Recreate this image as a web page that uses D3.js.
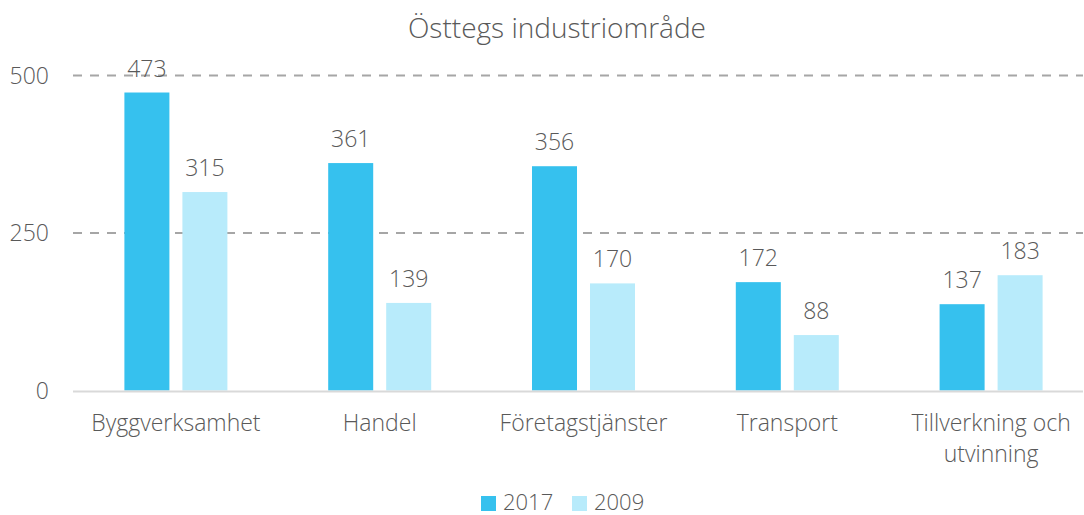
<!DOCTYPE html>
<html>
<head>
<meta charset="utf-8">
<script src="https://cdn.jsdelivr.net/npm/d3@7"></script>
<style>
  body { margin: 0; background: #fff; }
  text { font-family: "Open Sans", sans-serif; font-weight: 300; fill: #595959; }
</style>
</head>
<body>
<svg width="1084" height="515"></svg>
<script>
// chart data
var categories = ["Byggverksamhet", "Handel", "Företagstjänster", "Transport", "Tillverkning och utvinning"];
var series = ["2017", "2009"];
var values2017 = [473, 361, 356, 172, 137];
var values2009 = [315, 139, 170, 88, 183];
var yTicks = [0, 250, 500];

var colors = { "2017": "#36C1EE", "2009": "#B8EBFB" };

var svg = d3.select("svg");

var data = categories.map(function(c, i) {
  return { cat: c, vals: [{ s: "2017", v: values2017[i] }, { s: "2009", v: values2009[i] }] };
});

var x0 = d3.scaleBand().domain(categories).range([74, 1093]);
var x1 = d3.scaleBand().domain(series).range([-51.5, 51.5]).paddingInner(0.224);
var y = d3.scaleLinear().domain([0, 500]).range([390.5, 75.5]);

// gridlines
svg.append("g")
  .selectAll("line")
  .data(yTicks.filter(function(d) { return d > 0; }))
  .enter()
  .append("line")
  .attr("x1", 73).attr("x2", 1083)
  .attr("y1", function(d) { return y(d); })
  .attr("y2", function(d) { return y(d); })
  .attr("stroke", "#A6A6A6")
  .attr("stroke-width", 2)
  .attr("stroke-dasharray", "9,8");

// y labels
svg.append("g")
  .selectAll("text")
  .data(yTicks)
  .enter()
  .append("text")
  .attr("x", 49)
  .attr("y", function(d) { return y(d) + 8; })
  .attr("text-anchor", "end")
  .style("font-size", "23px")
  .text(function(d) { return d; });

// bars
var groups = svg.append("g")
  .selectAll("g")
  .data(data)
  .enter()
  .append("g")
  .attr("transform", function(d) { return "translate(" + (x0(d.cat) + x0.bandwidth() / 2) + ",0)"; });

groups.selectAll("rect")
  .data(function(d) { return d.vals; })
  .enter()
  .append("rect")
  .attr("x", function(d) { return x1(d.s); })
  .attr("width", x1.bandwidth())
  .attr("y", function(d) { return y(d.v); })
  .attr("height", function(d) { return y(0) - y(d.v); })
  .attr("fill", function(d) { return colors[d.s]; });

groups.selectAll("text.val")
  .data(function(d) { return d.vals; })
  .enter()
  .append("text")
  .attr("class", "val")
  .attr("x", function(d) { return x1(d.s) + x1.bandwidth() / 2; })
  .attr("y", function(d) { return y(d.v) - 16; })
  .attr("text-anchor", "middle")
  .style("font-size", "23px")
  .text(function(d) { return d.v; });

// baseline
svg.append("line")
  .attr("x1", 73).attr("x2", 1083)
  .attr("y1", y(0) + 1).attr("y2", y(0) + 1)
  .attr("stroke", "#D9D9D9")
  .attr("stroke-width", 2);

// category labels (wrap long one)
var catText = groups.append("text")
  .attr("text-anchor", "middle")
  .attr("y", 431)
  .style("font-size", "23px");

catText.each(function(d) {
  var lines = d.cat === "Tillverkning och utvinning" ? ["Tillverkning och", "utvinning"] : [d.cat];
  var t = d3.select(this);
  lines.forEach(function(l, i) {
    t.append("tspan").attr("x", 0).attr("dy", i === 0 ? 0 : 31).text(l);
  });
});

// title
svg.append("text")
  .attr("x", 557)
  .attr("y", 38)
  .attr("text-anchor", "middle")
  .style("font-size", "28px")
  .text("Östtegs industriområde");

// legend
var legend = svg.append("g").attr("transform", "translate(481,0)");
var lx = [0, 91];
series.forEach(function(s, i) {
  legend.append("rect")
    .attr("x", lx[i]).attr("y", 496)
    .attr("width", 15).attr("height", 15)
    .attr("fill", colors[s]);
  legend.append("text")
    .attr("x", lx[i] + 22).attr("y", 510)
    .style("font-size", "22px")
    .text(s);
});
</script>
</body>
</html>
